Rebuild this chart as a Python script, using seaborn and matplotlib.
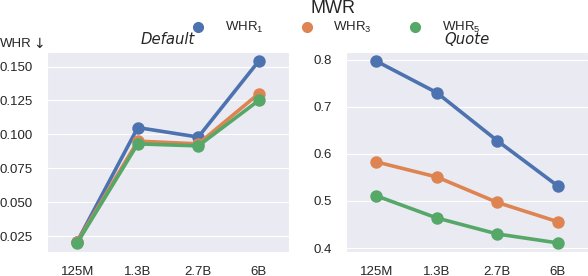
import matplotlib
matplotlib.use("Agg")
import matplotlib.pyplot as plt
from matplotlib.lines import Line2D
import seaborn as sns
import pandas as pd

sizes = ["125M", "1.3B", "2.7B", "6B"]
series = ["WHR$_1$", "WHR$_3$", "WHR$_5$"]

default_whr1 = [0.021, 0.105, 0.098, 0.154]
default_whr3 = [0.021, 0.095, 0.093, 0.130]
default_whr5 = [0.020, 0.093, 0.0915, 0.125]

quote_whr1 = [0.797, 0.730, 0.628, 0.532]
quote_whr3 = [0.583, 0.551, 0.497, 0.456]
quote_whr5 = [0.511, 0.464, 0.430, 0.411]


def to_long(vals):
    rows = []
    for name, v in zip(series, vals):
        for s, y in zip(sizes, v):
            rows.append({"size": s, "WHR": y, "MWR": name})
    return pd.DataFrame(rows)


df_default = to_long([default_whr1, default_whr3, default_whr5])
df_quote = to_long([quote_whr1, quote_whr3, quote_whr5])

sns.set_style("darkgrid")
plt.rcParams["font.family"] = ["Liberation Sans", "DejaVu Sans"]
plt.rcParams["mathtext.fontset"] = "custom"
plt.rcParams["mathtext.rm"] = "Liberation Sans"
palette = sns.color_palette("deep", 3)

fig = plt.figure(figsize=(5.88, 2.76), dpi=100)
ax1 = fig.add_axes([47 / 588, 1 - 252 / 276, 242 / 588, 200 / 276])
ax2 = fig.add_axes([346 / 588, 1 - 252 / 276, 242 / 588, 200 / 276])

for ax, df, title in [(ax1, df_default, "Default"), (ax2, df_quote, "Quote")]:
    sns.pointplot(data=df, x="size", y="WHR", hue="MWR", palette=palette,
                  markers="o", markersize=7, linewidth=2.6, ax=ax, legend=False)
    ax.set_title(title, style="italic", fontsize=10.7, pad=6,
                 family="DejaVu Sans")
    ax.set_xlabel("")
    ax.set_ylabel("")
    ax.tick_params(axis="both", labelsize=9.5, length=0, pad=10)

ax1.set_yticks([0.025, 0.050, 0.075, 0.100, 0.125, 0.150])
ax1.set_yticklabels(["0.025", "0.050", "0.075", "0.100", "0.125", "0.150"])
ax2.set_yticks([0.4, 0.5, 0.6, 0.7, 0.8])
ax2.set_yticklabels(["0.4", "0.5", "0.6", "0.7", "0.8"])

fig.text(0.0, 1 - 44 / 276, "WHR", fontsize=9.5, va="center", ha="left")
fig.text(33 / 588, 1 - 44 / 276, "↓", fontsize=10, va="center", ha="left",
         family="DejaVu Sans")

handles = [Line2D([], [], marker="o", linestyle="", color=c, markersize=7)
           for c in palette]
leg = fig.legend(handles, series, title="MWR", ncol=3, frameon=False,
                 loc="upper center", bbox_to_anchor=(0.566, 1.0),
                 fontsize=9.5, title_fontsize=13, handletextpad=1.0,
                 columnspacing=2.3, borderaxespad=0.0, borderpad=0.0,
                 labelspacing=0.25)

fig.savefig("out.png", dpi=100)
